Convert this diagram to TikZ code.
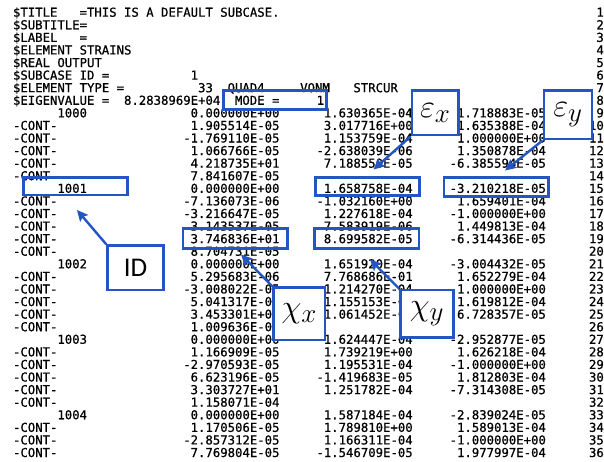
\documentclass[tikz,border=0pt]{standalone}
\usepackage{fontspec}
\setmonofont[FakeBold=0.7]{DejaVu Sans Mono}
\newfontfamily\calloutfont{Carlito}
\usetikzlibrary{arrows.meta}
\definecolor{markblue}{RGB}{35,85,195}
\pgfdeclarelayer{callouts}
\pgfsetlayers{main,callouts}

% baseline of listing line #1
\newcommand\yrow[1]{16.7+(#1-1)*12.58}
% the three value columns of one listing line
\newcommand\cells[4]{%
  \node[rgt] (a#1) at (279.7,{\yrow{#1}}) {#2};
  \node[rgt] (b#1) at (412.9,{\yrow{#1}}) {#3};
  \node[rgt] (c#1) at (546.1,{\yrow{#1}}) {#4};}
\newcommand\controw[4]{%
  \node[lft] (k#1) at (12.8,{\yrow{#1}}) {-CONT-};\cells{#1}{#2}{#3}{#4}}
\newcommand\idrow[5]{%
  \node[lft] (k#1) at (57.2,{\yrow{#1}}) {#2};\cells{#1}{#3}{#4}{#5}}
% enlarged math symbol for the callouts
\newcommand\bigsym[1]{\scalebox{1.3}{$#1$}}

\begin{document}
\begin{tikzpicture}[x=1pt,y=-1pt,
  txt/.style={inner sep=0pt,font=\fontsize{12.3}{12.3}\selectfont\ttfamily,text=black},
  lft/.style={txt,anchor=base west},
  rgt/.style={txt,anchor=base east},
  hilite/.style={draw=markblue,line width=2.6pt,inner sep=0pt,
    minimum width=104.4pt,minimum height=19pt},
  tagbox/.style={draw=markblue,line width=2.6pt,fill=white,inner sep=0pt},
  mathtag/.style={tagbox,font=\fontsize{24.88}{28}\selectfont},
  pointer/.style={draw=markblue,line width=2.4pt,
    -{Stealth[length=11pt,width=10.5pt,inset=2pt]}}]
\useasboundingbox (0,0) rectangle (604,461);
\fill[white] (0,0) rectangle (604,461);

% header of the punch file
\node[lft] (h1a) at (12.8,{\yrow{1}}) {\$TITLE};
\node[lft] (h1b) at (79.4,{\yrow{1}}) {=THIS IS A DEFAULT SUBCASE.};
\node[lft] (h2)  at (12.8,{\yrow{2}}) {\$SUBTITLE=};
\node[lft] (h3a) at (12.8,{\yrow{3}}) {\$LABEL};
\node[lft] (h3b) at (79.4,{\yrow{3}}) {=};
\node[lft] (h4)  at (12.8,{\yrow{4}}) {\$ELEMENT STRAINS};
\node[lft] (h5)  at (12.8,{\yrow{5}}) {\$REAL OUTPUT};
\node[lft] (h6a) at (12.8,{\yrow{6}}) {\$SUBCASE ID =};
\node[rgt] (h6b) at (198.3,{\yrow{6}}) {1};
\node[lft] (h7a) at (12.8,{\yrow{7}}) {\$ELEMENT TYPE =};
\node[rgt] (h7b) at (213.1,{\yrow{7}}) {33};
\node[lft] (h7c) at (227.4,{\yrow{7}}) {QUAD4};
\node[lft] (h7d) at (300.0,{\yrow{7}}) {VONM};
\node[lft] (h7e) at (353.2,{\yrow{7}}) {STRCUR};
\node[lft] (h8a) at (12.8,{\yrow{8}}) {\$EIGENVALUE =};
\node[rgt] (h8b) at (220.5,{\yrow{8}}) {8.2838969E+04};
\node[lft] (h8c) at (234.8,{\yrow{8}}) {MODE =};
\node[rgt] (h8d) at (324.3,{\yrow{8}}) {1};

% element strain records
\idrow{9}{1000}{0.000000E+00}{1.630365E-04}{1.718883E-05}
\controw{10}{1.905514E-05}{3.017716E+00}{1.635388E-04}
\controw{11}{-1.769110E-05}{1.153759E-04}{1.000000E+00}
\controw{12}{1.066766E-05}{-2.638039E-06}{1.350878E-04}
\controw{13}{4.218735E+01}{7.188550E-05}{-6.385594E-05}
\controw{14}{7.841607E-05}{}{}
\idrow{15}{1001}{0.000000E+00}{1.658758E-04}{-3.210218E-05}
\controw{16}{-7.136073E-06}{-1.032160E+00}{1.659401E-04}
\controw{17}{-3.216647E-05}{1.227618E-04}{-1.000000E+00}
\controw{18}{3.143537E-05}{7.583919E-06}{1.449813E-04}
\controw{19}{3.746836E+01}{8.699582E-05}{-6.314436E-05}
\controw{20}{8.704731E-05}{}{}
\idrow{21}{1002}{0.000000E+00}{1.651920E-04}{-3.004432E-05}
\controw{22}{5.295683E-06}{7.768686E-01}{1.652279E-04}
\controw{23}{-3.008022E-05}{1.214270E-04}{-1.000000E+00}
\controw{24}{5.041317E-05}{1.155153E-04}{1.619812E-04}
\controw{25}{3.453301E+01}{1.061452E-04}{-6.728357E-05}
\controw{26}{1.009636E-04}{}{}
\idrow{27}{1003}{0.000000E+00}{1.624447E-04}{-2.952877E-05}
\controw{28}{1.166909E-05}{1.739219E+00}{1.626218E-04}
\controw{29}{-2.970593E-05}{1.195531E-04}{-1.000000E+00}
\controw{30}{6.623196E-05}{-1.419683E-05}{1.812803E-04}
\controw{31}{3.303727E+01}{1.251782E-04}{-7.314308E-05}
\controw{32}{1.158071E-04}{}{}
\idrow{33}{1004}{0.000000E+00}{1.587184E-04}{-2.839024E-05}
\controw{34}{1.170506E-05}{1.789810E+00}{1.589013E-04}
\controw{35}{-2.857312E-05}{1.166311E-04}{-1.000000E+00}
\controw{36}{7.769804E-05}{-1.546709E-05}{1.977997E-04}

% editor line numbers
\foreach \n in {1,...,36}
  \node[rgt] (ln\n) at (604,{\yrow{\n}}) {\n};

% highlighted fields
\node[hilite,minimum width=103.2pt,minimum height=19.2pt] (hmode) at (275.1,99.9) {};
\node[hilite,minimum height=17.3pt] (hid)  at (75.5,186.4) {};
\node[hilite,minimum height=18.2pt] (hex)  at (367.5,186.4) {};
\node[hilite] (hey)  at (496,187) {};
\node[hilite,minimum height=20pt] (hchx) at (235.3,238.3) {};
\node[hilite,minimum height=20pt] (hchy) at (366.7,238.3) {};

% arrow tips
\coordinate (tex)  at (373.5,169.5);
\coordinate (tey)  at (505,170.5);
\coordinate (tid)  at (77,210);
\coordinate (tchx) at (241,254.5);
\coordinate (tchy) at (370,259.5);

% callout boxes, on the top layer
\begin{pgfonlayer}{callouts}
\node[mathtag,minimum width=46.7pt,minimum height=44.3pt] (ex) at (435.4,112.9) {\bigsym{\varepsilon_x}};
\node[mathtag,minimum width=48pt,minimum height=48.3pt] (ey) at (568,114.9) {\bigsym{\varepsilon_y}};
\node[tagbox,minimum width=56pt,minimum height=44.5pt,
     font=\calloutfont\fontsize{27}{27}\selectfont] (idb) at (135.5,267.8) {ID};
\node[mathtag,minimum width=51.5pt,minimum height=52.5pt] (chx) at (299.3,313.8) {\bigsym{\chi_x}};
\node[mathtag,minimum width=53pt,minimum height=47.5pt] (chy) at (427,313.8) {\bigsym{\chi_y}};
\end{pgfonlayer}

% pointers from the callouts to the fields
\draw[pointer] (ex.south west) -- (tex);
\draw[pointer] (ey.south west) -- (tey);
\draw[pointer] (idb.north west) -- (tid);
\draw[pointer] (chx.north west) -- (tchx);
\draw[pointer] (chy.north west) -- (tchy);
\end{tikzpicture}
\end{document}
